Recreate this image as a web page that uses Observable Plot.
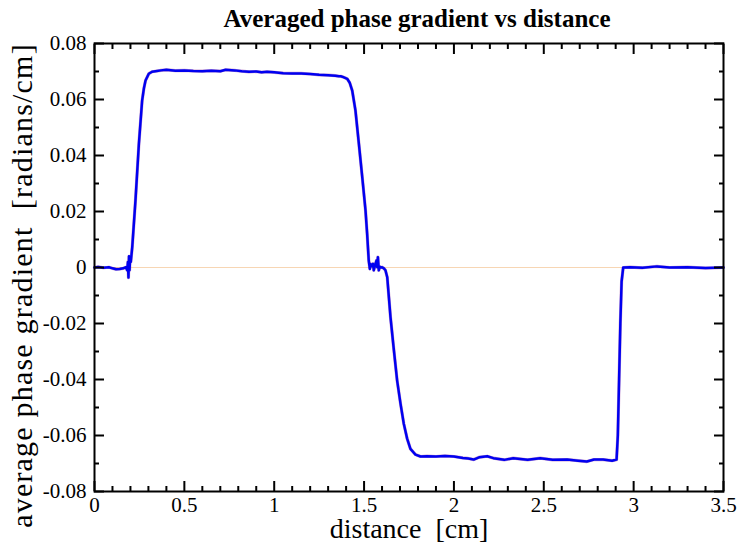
<!DOCTYPE html>
<html><head><meta charset="utf-8">
<script src="https://cdn.jsdelivr.net/npm/d3@7"></script>
<script src="https://cdn.jsdelivr.net/npm/@observablehq/plot@0.6"></script>
<style>
body{margin:0;background:#fff}
svg{display:block}
svg text{white-space:pre}
.ylab text{letter-spacing:1.2px}
</style>
</head><body><div id="chart"></div>
<script>
const title = "Averaged phase gradient vs distance";
const xLabel = "distance  [cm]";
const yLabel = "average phase gradient  [radians/cm]";

const distance = [0,0.02,0.05,0.08,0.10,0.12,0.14,0.16,0.175,0.182,0.186,0.189,0.192,0.195,0.198,0.202,0.21,0.228,0.247,0.265,0.275,0.284,0.302,0.32,0.339,0.37,0.40,0.45,0.50,0.55,0.60,0.65,0.70,0.73,0.78,0.82,0.86,0.90,0.93,0.96,1.00,1.05,1.10,1.15,1.20,1.25,1.30,1.34,1.36,1.37,1.385,1.406,1.42,1.434,1.452,1.471,1.490,1.508,1.517,1.526,1.532,1.538,1.545,1.550,1.554,1.562,1.569,1.573,1.577,1.582,1.587,1.592,1.60,1.610,1.619,1.629,1.647,1.666,1.684,1.703,1.721,1.740,1.758,1.786,1.814,1.85,1.90,1.95,2.00,2.05,2.08,2.11,2.14,2.185,2.22,2.28,2.33,2.41,2.48,2.55,2.63,2.69,2.74,2.78,2.83,2.88,2.905,2.912,2.919,2.926,2.933,2.942,2.98,3.05,3.13,3.2,3.3,3.4,3.5];
const gradient = [0,0.0002,-0.0001,0.0001,-0.0003,-0.0006,-0.0005,-0.0003,0.0001,-0.001,0.002,-0.0036,0.004,-0.001,0.003,0.002,0.0073,0.024,0.0442,0.0596,0.064,0.0668,0.0692,0.0699,0.0701,0.0704,0.0706,0.0703,0.0704,0.0702,0.0701,0.0703,0.0701,0.0706,0.0704,0.0701,0.0699,0.0700,0.0697,0.0699,0.0697,0.0694,0.0693,0.0693,0.0691,0.0688,0.0687,0.0685,0.0683,0.0683,0.0680,0.0674,0.066,0.0632,0.0561,0.0442,0.0322,0.0204,0.0121,0.0025,-0.0005,0.0012,0.0005,0.0013,-0.001,0.001,0.0025,0.0001,0.0037,-0.001,0.0003,0,0.0001,-0.0003,-0.001,-0.0035,-0.0177,-0.0296,-0.0404,-0.0487,-0.0558,-0.0612,-0.0648,-0.0668,-0.0675,-0.0674,-0.0675,-0.0673,-0.0675,-0.068,-0.0682,-0.0686,-0.0678,-0.0674,-0.0681,-0.0687,-0.0681,-0.0687,-0.0681,-0.0687,-0.0686,-0.069,-0.0693,-0.0686,-0.0686,-0.069,-0.0686,-0.06,-0.04,-0.02,-0.005,0,0.0001,-0.0001,0.0004,0,0.0001,-0.0002,0];

const xMajorTicks = [0,0.5,1,1.5,2,2.5,3,3.5];
const xTickLabels = ["0","0.5","1","1.5","2","2.5","3","3.5"];
const xMinorTicks = [0.1,0.2,0.3,0.4,0.6,0.7,0.8,0.9,1.1,1.2,1.3,1.4,1.6,1.7,1.8,1.9,2.1,2.2,2.3,2.4,2.6,2.7,2.8,2.9,3.1,3.2,3.3,3.4];
const yMajorTicks = [-0.08,-0.06,-0.04,-0.02,0,0.02,0.04,0.06,0.08];
const yTickLabels = ["-0.08","-0.06","-0.04","-0.02","0","0.02","0.04","0.06","0.08"];
const yMinorTicks = [-0.07,-0.05,-0.03,-0.01,0.01,0.03,0.05,0.07];

const serif = "Liberation Serif";
const table = distance.map((d, i) => ({distance: d, gradient: gradient[i]}));
const xFmt = d => xTickLabels[xMajorTicks.indexOf(d)];
const yFmt = d => yTickLabels[yMajorTicks.indexOf(d)];
const blank = () => "";
const MAJ = 10, MIN = 5;

const chart = Plot.plot({
  width: 751,
  height: 545,
  marginLeft: 94,
  marginRight: 28,
  marginTop: 43,
  marginBottom: 54,
  style: {fontFamily: serif, fontSize: "21px", background: "#fff", color: "#000"},
  x: {domain: [0, 3.5]},
  y: {domain: [-0.08, 0.08]},
  marks: [
    Plot.ruleY([0], {stroke: "#f7d6b4", strokeWidth: 1}),
    Plot.line(table, {x: "distance", y: "gradient", stroke: "#8a2a9a", strokeWidth: 3.2, strokeOpacity: 0.45}),
    Plot.line(table, {x: "distance", y: "gradient", stroke: "#0000f0", strokeWidth: 2.5}),
    // bottom
    Plot.axisX(xMajorTicks, {anchor: "bottom", tickSize: 0, tickPadding: 6, tickFormat: xFmt, label: null, fontFamily: serif, fontSize: 21}),
    Plot.axisX(xMajorTicks, {anchor: "bottom", tickSize: MAJ, dy: -MAJ, tickFormat: blank, label: null, strokeWidth: 2}),
    Plot.axisX(xMinorTicks, {anchor: "bottom", tickSize: MIN, dy: -MIN, tickFormat: blank, label: null, strokeWidth: 2}),
    // top
    Plot.axisX(xMajorTicks, {anchor: "top", tickSize: MAJ, dy: MAJ, tickFormat: blank, label: null, strokeWidth: 2}),
    Plot.axisX(xMinorTicks, {anchor: "top", tickSize: MIN, dy: MIN, tickFormat: blank, label: null, strokeWidth: 2}),
    // left
    Plot.axisY(yMajorTicks, {anchor: "left", tickSize: 0, tickPadding: 8, tickFormat: yFmt, label: null, fontFamily: serif, fontSize: 21}),
    Plot.axisY(yMajorTicks, {anchor: "left", tickSize: MAJ, dx: MAJ, tickFormat: blank, label: null, strokeWidth: 2}),
    Plot.axisY(yMinorTicks, {anchor: "left", tickSize: MIN, dx: MIN, tickFormat: blank, label: null, strokeWidth: 2}),
    // right
    Plot.axisY(yMajorTicks, {anchor: "right", tickSize: MAJ, dx: -MAJ, tickFormat: blank, label: null, strokeWidth: 2}),
    Plot.axisY(yMinorTicks, {anchor: "right", tickSize: MIN, dx: -MIN, tickFormat: blank, label: null, strokeWidth: 2}),
    Plot.frame({stroke: "#000", strokeWidth: 2}),
    Plot.text([title], {frameAnchor: "top", lineAnchor: "middle", textAnchor: "middle", dy: -25, dx: 8, fontSize: 25, fontWeight: "bold", fontFamily: serif}),
    Plot.text([xLabel], {frameAnchor: "bottom", lineAnchor: "middle", textAnchor: "middle", dy: 38, fontSize: 28, fontFamily: serif}),
    Plot.text([yLabel], {frameAnchor: "left", lineAnchor: "middle", textAnchor: "middle", rotate: -90, dx: -72, dy: 18, fontSize: 30, fontFamily: serif, className: "ylab"})
  ]
});
document.getElementById("chart").appendChild(chart);
</script>
</body></html>
